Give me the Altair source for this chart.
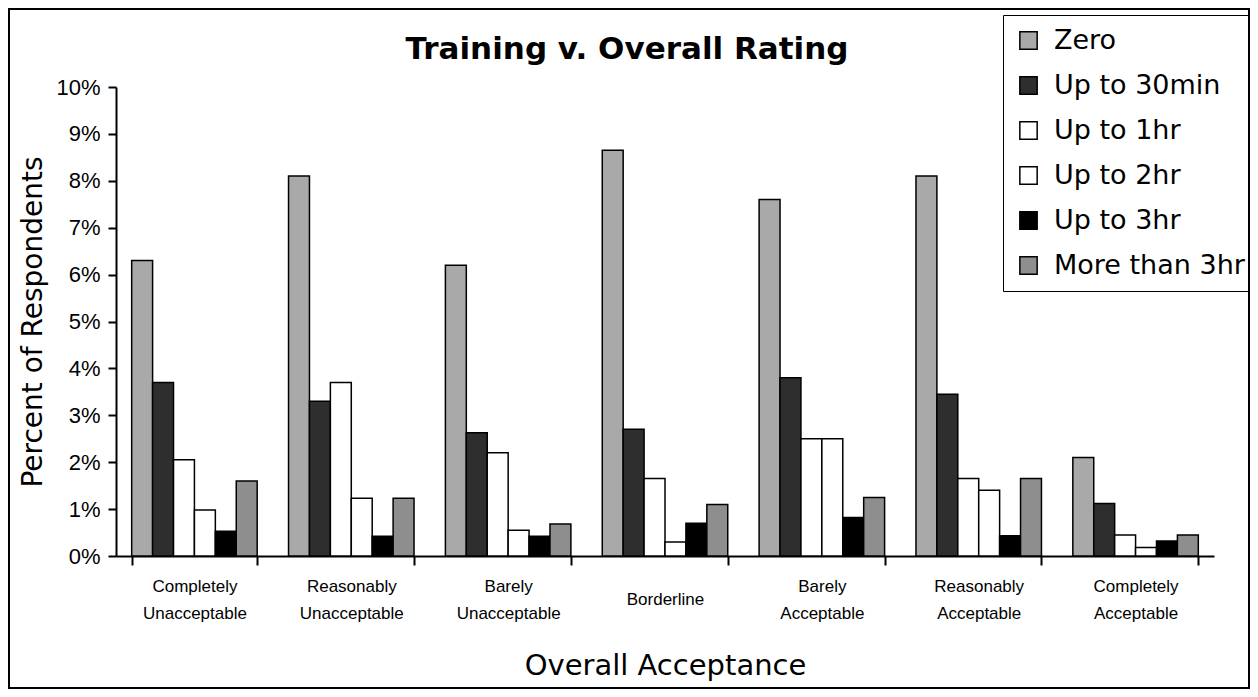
import altair as alt
import pandas as pd

categories = [
    "Completely Unacceptable",
    "Reasonably Unacceptable",
    "Barely Unacceptable",
    "Borderline",
    "Barely Acceptable",
    "Reasonably Acceptable",
    "Completely Acceptable",
]
series = ["Zero", "Up to 30min", "Up to 1hr", "Up to 2hr", "Up to 3hr", "More than 3hr"]

zero      = [0.063, 0.081, 0.062, 0.0865, 0.076, 0.081, 0.021]
up30min   = [0.037, 0.033, 0.0263, 0.027, 0.038, 0.0345, 0.0112]
up1hr     = [0.0205, 0.037, 0.022, 0.0165, 0.025, 0.0165, 0.0045]
up2hr     = [0.0098, 0.0123, 0.0055, 0.003, 0.025, 0.014, 0.0018]
up3hr     = [0.0053, 0.0042, 0.0042, 0.007, 0.0082, 0.0043, 0.0032]
more3hr   = [0.016, 0.0123, 0.0068, 0.011, 0.0125, 0.0165, 0.0045]

colors = ["#a9a9a9", "#2e2e2e", "#ffffff", "#ffffff", "#000000", "#8e8e8e"]

values = [zero, up30min, up1hr, up2hr, up3hr, more3hr]
rows = []
for s, vals in zip(series, values):
    for c, v in zip(categories, vals):
        rows.append({"category": c, "series": s, "value": v})
df = pd.DataFrame(rows)

W, H = 1098, 469
PAD_L, PAD_T, PAD_R, PAD_B = 108, 79, 36, 133

bars = alt.Chart(df).mark_bar(stroke="black", strokeWidth=1.5).encode(
    x=alt.X(
        "category:N",
        sort=categories,
        scale=alt.Scale(paddingInner=0.2, paddingOuter=0.1),
        axis=alt.Axis(
            title="Overall Acceptance",
            labelExpr="split(datum.label, ' ')",
            labelAngle=0,
            labelFont="Liberation Sans",
            labelFontSize=17,
            labelLineHeight=27,
            labelPadding=alt.condition("datum.value == 'Borderline'", alt.value(26), alt.value(13)),
            labelColor="black",
            tickBand="extent",
            tickSize=9,
            tickColor="black",
            tickWidth=2,
            domainColor="black",
            domainWidth=2,
            titleFont="DejaVu Sans",
            titleFontSize=29,
            titleFontWeight="normal",
            titleColor="black",
            titlePadding=30,
        ),
    ),
    xOffset=alt.XOffset("series:N", sort=series, scale=alt.Scale(domain=series)),
    y=alt.Y(
        "value:Q",
        scale=alt.Scale(domain=[0, 0.1], nice=False),
        axis=alt.Axis(
            title="Percent of Respondents",
            format=".0%",
            values=[i / 100 for i in range(11)],
            grid=False,
            labelFont="Liberation Sans",
            labelFontSize=22,
            labelColor="black",
            labelPadding=8,
            tickSize=8,
            tickColor="black",
            tickWidth=2,
            domainColor="black",
            domainWidth=2,
            titleFont="DejaVu Sans",
            titleFontSize=28,
            titleFontWeight="normal",
            titleColor="black",
            titlePadding=8,
        ),
    ),
    color=alt.Color(
        "series:N",
        sort=series,
        scale=alt.Scale(domain=series, range=colors),
        legend=alt.Legend(
            title=None,
            orient="none",
            legendX=887,
            legendY=-72,
            strokeColor="black",
            padding=12,
            symbolType="square",
            symbolSize=300,
            symbolStrokeColor="black",
            symbolStrokeWidth=1.5,
            symbolOpacity=1,
            labelFont="DejaVu Sans",
            labelFontSize=27,
            labelColor="black",
            labelOffset=12,
            labelLimit=400,
            rowPadding=17,
        ),
    ),
)

border = alt.Chart(pd.DataFrame({"a": [0]})).mark_rect(
    fillOpacity=0, stroke="black", strokeWidth=2
).encode(
    x=alt.value(-PAD_L + 1),
    x2=alt.value(W + PAD_R - 1),
    y=alt.value(-PAD_T + 1),
    y2=alt.value(H + PAD_B - 1),
)

chart = alt.layer(bars, border).properties(
    width=W,
    height=H,
    background="white",
    padding={"left": PAD_L, "top": PAD_T, "right": PAD_R, "bottom": PAD_B},
    autosize=alt.AutoSizeParams(type="none"),
    title=alt.TitleParams(
        "Training v. Overall Rating",
        font="DejaVu Sans",
        fontSize=31,
        fontWeight="bold",
        color="black",
        anchor="middle",
        baseline="bottom",
        dx=-38,
        dy=89,
        offset=0,
    ),
).configure_view(strokeWidth=0)

chart.save("out.html", embed_options={"renderer": "svg", "actions": False})
